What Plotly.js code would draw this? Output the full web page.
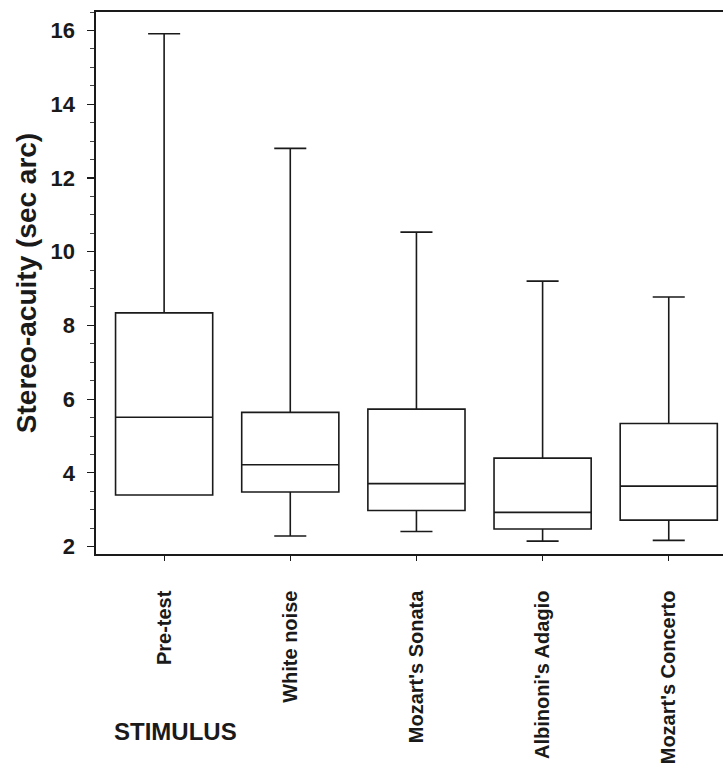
<!DOCTYPE html>
<html>
<head>
<meta charset="utf-8">
<script src="https://cdn.plot.ly/plotly-3.0.1.min.js"></script>
<style>
  html, body { margin: 0; padding: 0; background: #ffffff; }
  #chart { width: 723px; height: 771px; }
</style>
</head>
<body>
<div id="chart"></div>
<script>
// Data (stereo-acuity, sec arc)
const categories = ["Pre-test", "White noise", "Mozart's Sonata", "Albinoni's Adagio", "Mozart's Concerto"];
const lowerWhisker = [3.40, 2.29, 2.41, 2.15, 2.17];
const q1Values     = [3.40, 3.48, 2.98, 2.48, 2.72];
const medianValues = [5.51, 4.22, 3.71, 2.93, 3.64];
const q3Values     = [8.34, 5.64, 5.73, 4.40, 5.34];
const upperWhisker = [15.91, 12.80, 10.53, 9.20, 8.77];
const yTickValues  = [2, 4, 6, 8, 10, 12, 14, 16];

const FONT = "Liberation Sans, Arial, Helvetica, sans-serif";
const INK = "#1a1a1a";

const trace = {
  type: "box",
  x: categories,
  q1: q1Values,
  median: medianValues,
  q3: q3Values,
  lowerfence: lowerWhisker,
  upperfence: upperWhisker,
  width: 0.77,
  whiskerwidth: 0.33,
  fillcolor: "#ffffff",
  line: { color: INK, width: 1.6 },
  boxpoints: false,
  showlegend: false,
  hoverinfo: "skip"
};

const layout = {
  width: 723,
  height: 771,
  paper_bgcolor: "#ffffff",
  plot_bgcolor: "#ffffff",
  margin: { l: 96, r: 0, t: 12, b: 217, pad: 0 },
  showlegend: false,
  font: { family: FONT, color: INK, size: 20, weight: 700 },
  xaxis: {
    type: "category",
    range: [-0.54, 4.43],
    showline: true,
    linecolor: INK,
    linewidth: 1.6,
    mirror: true,
    ticks: "outside",
    ticklen: 5,
    tickwidth: 1.2,
    tickcolor: INK,
    tickangle: -90,
    ticklabelstandoff: 22,
    tickfont: { family: FONT, size: 20, color: INK, weight: 700 },
    showgrid: false,
    zeroline: false,
    fixedrange: true
  },
  yaxis: {
    range: [1.8, 16.5],
    tickvals: yTickValues,
    ticktext: yTickValues.map(String),
    showline: true,
    linecolor: INK,
    linewidth: 1.6,
    ticks: "outside",
    ticklen: 7,
    tickwidth: 1.2,
    tickcolor: INK,
    ticklabelstandoff: 8,
    tickfont: { family: FONT, size: 22, color: INK, weight: 700 },
    minor: { dtick: 0.5, tick0: 2, ticks: "outside", ticklen: 4, tickwidth: 1, tickcolor: "#444444", showgrid: false },
    showgrid: false,
    zeroline: false,
    title: { text: "Stereo-acuity (sec arc)", font: { family: FONT, size: 28, color: INK, weight: 700 }, standoff: 6 },
    automargin: false,
    fixedrange: true
  },
  annotations: [
    {
      text: "STIMULUS",
      xref: "paper", yref: "paper",
      x: 0.0255, y: -0.3266,
      xanchor: "left", yanchor: "middle",
      showarrow: false,
      font: { family: FONT, size: 24, color: INK, weight: 700 }
    }
  ]
};

Plotly.newPlot("chart", [trace], layout, { staticPlot: true, displayModeBar: false });
</script>
</body>
</html>
